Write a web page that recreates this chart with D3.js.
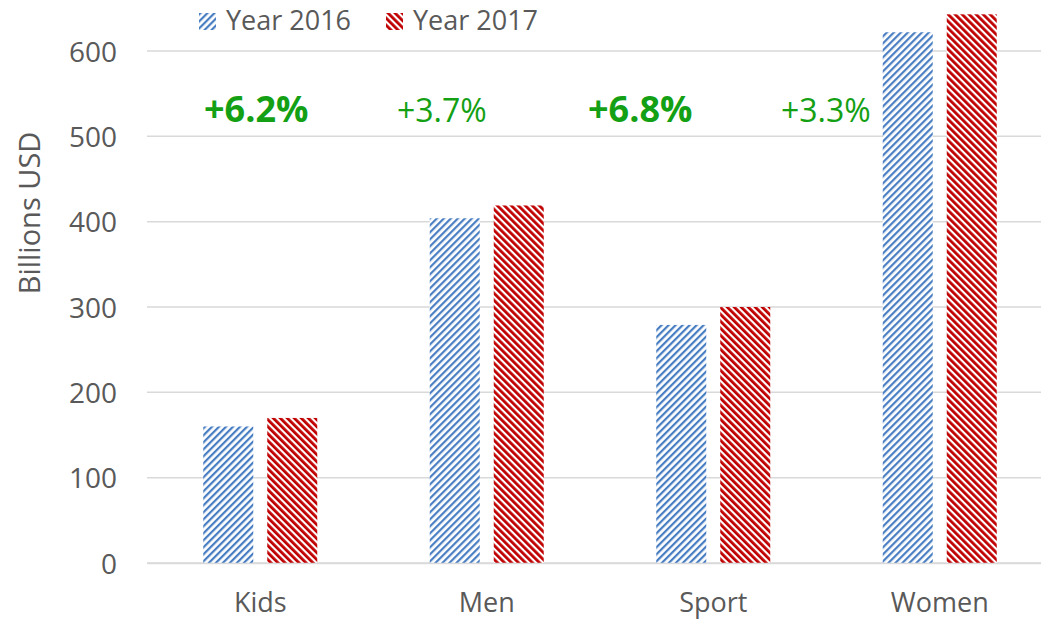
<!DOCTYPE html>
<html>
<head>
<meta charset="utf-8">
<script src="https://cdn.jsdelivr.net/npm/d3@7"></script>
<style>
  body { margin: 0; background: #fff; }
  text { font-family: "Open Sans", sans-serif; }
</style>
</head>
<body>
<svg id="canvas" width="1041" height="619"></svg>
<script>
// chart data
let categories = ['Kids', 'Men', 'Sport', 'Women'];
let seriesNames = ['Year 2016', 'Year 2017'];
let values2016 = [160, 404, 279, 622];
let values2017 = [170, 419, 300, 643];
let yTicks = [0, 100, 200, 300, 400, 500, 600];
let growthLabels = ['+6.2%', '+3.7%', '+6.8%', '+3.3%'];
let growthBold = [true, false, true, false];

// layout only
let growthShift = [-4, -45, -73, -114];
let textColor = '#595959';
let gridColor = '#d9d9d9';
let green = '#14a014';

let canvas = d3.select('#canvas');

let defs = canvas.append('defs');
let makePattern = (id, color, angle, stripe) => {
	let size = 4.95;
	let p = defs
		.append('pattern')
		.attr('id', id)
		.attr('patternUnits', 'userSpaceOnUse')
		.attr('width', size)
		.attr('height', size)
		.attr('patternTransform', `rotate(${angle})`);
	p.append('rect').attr('width', size).attr('height', size).attr('fill', '#fff');
	p.append('rect').attr('width', stripe).attr('height', size).attr('fill', color);
};
makePattern('hatch2016', '#4a7ec2', 45, 2.2);
makePattern('hatch2017', '#c00000', -45, 2.8);
let fills = ['url(#hatch2016)', 'url(#hatch2017)'];

let yScale = d3.scaleLinear().domain([0, 600]).range([563, 51]);
let xScale = d3.scaleBand().domain(categories).range([147, 1053]);
let groupWidth = 114;
let xInner = d3
	.scaleBand()
	.domain(seriesNames)
	.range([0, groupWidth])
	.paddingInner(14 / 64);

// gridlines
canvas
	.append('g')
	.selectAll('line')
	.data(yTicks)
	.enter()
	.append('line')
	.attr('x1', 147)
	.attr('x2', 1053)
	.attr('y1', (d) => yScale(d))
	.attr('y2', (d) => yScale(d))
	.attr('stroke', gridColor)
	.attr('stroke-width', 1.5);

// y axis labels
let yAxis = d3.axisLeft(yScale).tickValues(yTicks).tickSize(0).tickPadding(0);
let yAxisG = canvas.append('g').attr('transform', 'translate(117,0)').call(yAxis);
yAxisG.select('.domain').remove();
yAxisG
	.selectAll('text')
	.attr('fill', textColor)
	.style('font-size', '28px')
	.style('font-family', '"Open Sans", sans-serif')
	.attr('dy', '0.36em');

canvas
	.append('text')
	.attr('transform', 'translate(40,213) rotate(-90)')
	.attr('text-anchor', 'middle')
	.attr('fill', textColor)
	.style('font-size', '29px')
	.text('Billions USD');

// bars
let rows = categories.map((c, i) => ({ cat: c, vals: [values2016[i], values2017[i]] }));
let block = canvas
	.selectAll('g.cat')
	.data(rows)
	.enter()
	.append('g')
	.attr('class', 'cat')
	.attr('transform', (d) => `translate(${xScale(d.cat) + (xScale.bandwidth() - groupWidth) / 2},0)`);
block
	.selectAll('rect')
	.data((d) => d.vals.map((v, j) => ({ v: v, s: seriesNames[j], j: j })))
	.enter()
	.append('rect')
	.attr('x', (d) => xInner(d.s))
	.attr('y', (d) => yScale(d.v))
	.attr('width', xInner.bandwidth())
	.attr('height', (d) => yScale(0) - yScale(d.v))
	.attr('fill', (d) => fills[d.j]);

// x axis
let xAxis = d3.axisBottom(xScale).tickSize(0).tickPadding(0);
let xAxisG = canvas.append('g').attr('transform', 'translate(0,563)').call(xAxis);
xAxisG.select('.domain').attr('stroke', gridColor).attr('stroke-width', 1.5);
xAxisG
	.selectAll('text')
	.attr('fill', textColor)
	.attr('y', 49)
	.attr('dy', 0)
	.style('font-size', '27px')
	.style('font-family', '"Open Sans", sans-serif');

// growth annotations
canvas
	.selectAll('text.growth')
	.data(growthLabels)
	.enter()
	.append('text')
	.attr('class', 'growth')
	.attr('x', (d, i) => xScale(categories[i]) + xScale.bandwidth() / 2 + growthShift[i])
	.attr('y', 122)
	.attr('text-anchor', 'middle')
	.attr('fill', green)
	.style('font-weight', (d, i) => (growthBold[i] ? 700 : 400))
	.style('font-size', (d, i) => (growthBold[i] ? '36px' : '32px'))
	.text((d) => d);

// legend
let legend = canvas
	.selectAll('g.legend')
	.data(seriesNames)
	.enter()
	.append('g')
	.attr('class', 'legend')
	.attr('transform', (d, i) => `translate(${199 + i * 187},13)`);
legend
	.append('rect')
	.attr('width', 17)
	.attr('height', 17)
	.attr('fill', (d, i) => fills[i]);
legend
	.append('text')
	.attr('x', 27)
	.attr('y', 17)
	.attr('fill', textColor)
	.style('font-size', '27px')
	.text((d) => d);
</script>
</body>
</html>
